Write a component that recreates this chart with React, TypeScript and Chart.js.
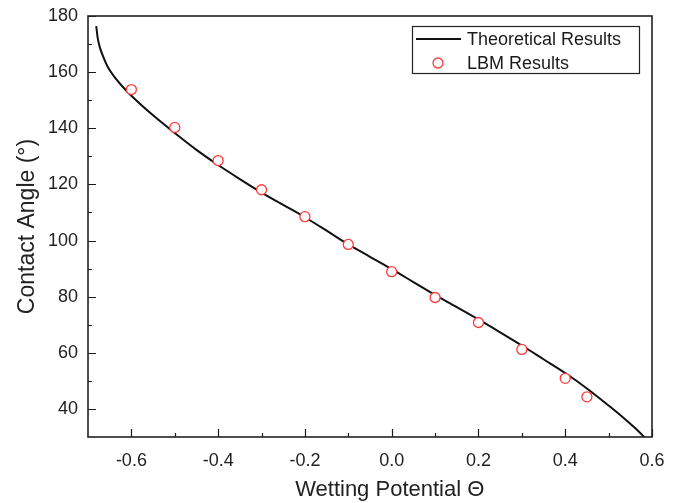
import React, { useEffect, useRef } from "react";
import { Chart, registerables } from "chart.js";

Chart.register(...registerables);

const FONT = "'Liberation Sans', Arial, Helvetica, sans-serif";

const theoryX = [-0.681, -0.678, -0.673, -0.665, -0.655, -0.64, -0.62, -0.6, -0.55, -0.5, -0.45, -0.4, -0.35, -0.3, -0.25, -0.2, -0.15, -0.1, -0.05, 0, 0.05, 0.1, 0.15, 0.2, 0.25, 0.3, 0.35, 0.4, 0.45, 0.5, 0.53, 0.55, 0.57, 0.585];
const theoryY = [176.4, 172.5, 169.0, 165.5, 162.0, 158.5, 154.8, 151.6, 144.6, 138.3, 132.3, 126.9, 121.9, 117.1, 112.7, 108.3, 103.5, 98.6, 94.2, 89.8, 85.2, 80.6, 76.3, 71.9, 67.3, 62.6, 57.7, 52.8, 47.3, 41.2, 37.4, 34.7, 31.9, 29.5];

const lbmX = [-0.6, -0.5, -0.4, -0.3, -0.2, -0.1, 0, 0.1, 0.2, 0.3, 0.4, 0.45];
const lbmY = [153.8, 140.3, 128.5, 118.1, 108.5, 98.6, 88.9, 79.7, 70.8, 61.2, 50.9, 44.3];

const xTicks = [-0.6, -0.4, -0.2, 0, 0.2, 0.4, 0.6];
const xMinorTicks = [-0.5, -0.3, -0.1, 0.1, 0.3, 0.5];
const yTicks = [40, 60, 80, 100, 120, 140, 160, 180];
const yMinorTicks = [50, 70, 90, 110, 130, 150, 170];

const xTitle = "Wetting Potential \u0398";
const yTitle = "Contact Angle (\u00B0)";
const seriesLabels = ["Theoretical Results", "LBM Results"];

const framePlugin = {
  id: "frameTicksLegend",
  afterDatasetsDraw(chart: any) {
    const { ctx, chartArea: a, scales } = chart;
    const xs = scales.x;
    const ys = scales.y;
    ctx.save();
    ctx.strokeStyle = "#1a1a1a";
    ctx.lineWidth = 1.2;
    ctx.beginPath();
    for (const v of xTicks) {
      const p = Math.round(xs.getPixelForValue(v)) + 0.5;
      ctx.moveTo(p, a.bottom);
      ctx.lineTo(p, a.bottom - 8);
    }
    for (const v of xMinorTicks) {
      const p = Math.round(xs.getPixelForValue(v)) + 0.5;
      ctx.moveTo(p, a.bottom);
      ctx.lineTo(p, a.bottom - 4);
    }
    for (const v of yTicks) {
      const p = Math.round(ys.getPixelForValue(v)) + 0.5;
      ctx.moveTo(a.left, p);
      ctx.lineTo(a.left + 8, p);
    }
    for (const v of yMinorTicks) {
      const p = Math.round(ys.getPixelForValue(v)) + 0.5;
      ctx.moveTo(a.left, p);
      ctx.lineTo(a.left + 4, p);
    }
    ctx.stroke();
    ctx.lineWidth = 1.6;
    ctx.strokeStyle = "#222";
    ctx.strokeRect(a.left, a.top, a.right - a.left, a.bottom - a.top);

    // x-axis title (offset to the right as in the reference)
    ctx.fillStyle = "#222";
    ctx.font = `22px ${FONT}`;
    ctx.textAlign = "center";
    ctx.textBaseline = "middle";
    ctx.fillText(xTitle, a.left + (a.right - a.left) * 0.535, 490);

    // legend
    const ds = chart.data.datasets;
    const bx = a.right - 240;
    const by = a.top + 10;
    const bw = 227;
    const bh = 47;
    ctx.fillStyle = "#fff";
    ctx.fillRect(bx, by, bw, bh);
    ctx.lineWidth = 1.2;
    ctx.strokeStyle = "#222";
    ctx.strokeRect(bx + 0.5, by + 0.5, bw, bh);
    const row1 = by + 13;
    const row2 = by + 37;
    ctx.strokeStyle = ds[1].borderColor;
    ctx.lineWidth = 2;
    ctx.beginPath();
    ctx.moveTo(bx + 4, row1);
    ctx.lineTo(bx + 49, row1);
    ctx.stroke();
    ctx.beginPath();
    ctx.arc(bx + 26, row2, 5, 0, Math.PI * 2);
    ctx.fillStyle = "#fff";
    ctx.fill();
    ctx.strokeStyle = ds[0].borderColor;
    ctx.lineWidth = 1.3;
    ctx.stroke();
    ctx.fillStyle = "#1a1a1a";
    ctx.font = `18px ${FONT}`;
    ctx.textBaseline = "middle";
    ctx.textAlign = "left";
    ctx.fillText(ds[1].label, bx + 55, row1 + 1);
    ctx.fillText(ds[0].label, bx + 55, row2 + 1);
    ctx.restore();
  },
};

export default function App() {
  const ref = useRef<HTMLCanvasElement>(null);
  useEffect(() => {
    document.body.style.margin = "0";
    const canvas = ref.current!;
    const chart = new Chart(canvas, {
      type: "scatter",
      data: {
        datasets: [
          {
            label: seriesLabels[1],
            data: lbmX.map((x, i) => ({ x, y: lbmY[i] })),
            showLine: false,
            pointStyle: "circle",
            pointRadius: 5,
            pointBorderWidth: 1.3,
            borderColor: "#ff3a3a",
            pointBorderColor: "#ff3a3a",
            pointBackgroundColor: "#ffffff",
            backgroundColor: "#ffffff",
            order: 0,
          },
          {
            label: seriesLabels[0],
            data: theoryX.map((x, i) => ({ x, y: theoryY[i] })),
            showLine: true,
            borderColor: "#111111",
            borderWidth: 2,
            pointRadius: 0,
            cubicInterpolationMode: "monotone",
            order: 1,
          },
        ],
      },
      options: {
        responsive: false,
        animation: false,
        devicePixelRatio: 1,
        layout: { padding: { top: 16, right: 28, left: 0, bottom: 0 } },
        plugins: {
          legend: { display: false },
          tooltip: { enabled: false },
        },
        scales: {
          x: {
            type: "linear",
            min: -0.7,
            max: 0.6,
            grid: { display: false, drawTicks: false },
            border: { display: false },
            afterBuildTicks: (s: any) => {
              s.ticks = xTicks.map((v) => ({ value: v }));
            },
            afterFit: (s: any) => {
              s.height = 66;
              s.paddingLeft = 0;
              s.paddingRight = 0;
            },
            ticks: {
              padding: 13,
              color: "#222",
              font: { family: FONT, size: 18 },
              maxRotation: 0,
              callback: (v: any) => Number(v).toFixed(1),
            },
            title: { display: false, text: xTitle },
          },
          y: {
            type: "linear",
            min: 30,
            max: 180,
            grid: { display: false, drawTicks: false },
            border: { display: false },
            afterBuildTicks: (s: any) => {
              s.ticks = yTicks.map((v) => ({ value: v }));
            },
            afterFit: (s: any) => {
              s.width = 88;
              s.paddingTop = 0;
              s.paddingBottom = 0;
            },
            ticks: {
              padding: 10,
              color: "#222",
              font: { family: FONT, size: 18 },
            },
            title: {
              display: true,
              text: yTitle,
              color: "#222",
              font: { family: FONT, size: 23 },
              padding: { top: 14, bottom: 0 },
            },
          },
        },
      },
      plugins: [framePlugin],
    } as any);
    return () => chart.destroy();
  }, []);
  return (
    <div style={{ width: 680, height: 503, position: "relative" }}>
      <canvas ref={ref} width={680} height={503} style={{ display: "block" }} />
    </div>
  );
}
